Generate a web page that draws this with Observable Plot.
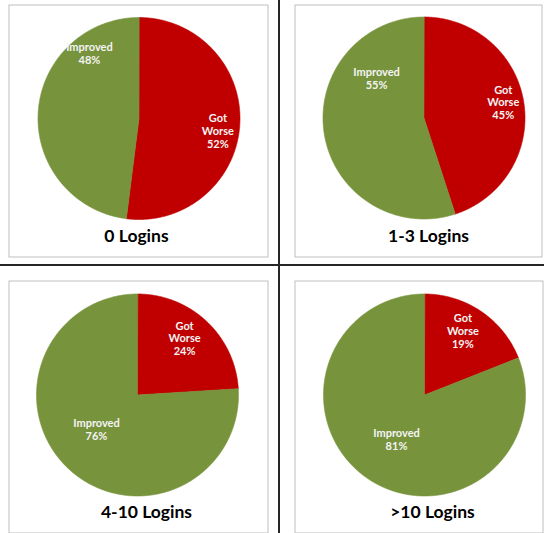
<!DOCTYPE html>
<html>
<head>
<meta charset="utf-8">
<script src="https://cdn.jsdelivr.net/npm/d3@7"></script>
<script src="https://cdn.jsdelivr.net/npm/@observablehq/plot@0.6"></script>
<style>
  html, body { margin: 0; padding: 0; background: #fff; }
  #sheet { position: relative; width: 544px; height: 533px; overflow: hidden; background: #fff; }
  #sheet > svg { position: absolute; }
  .rule { position: absolute; background: #262626; }
</style>
</head>
<body>
<div id="sheet"></div>
<script>
// Share of users whose outcome improved / got worse, by login frequency
const groups = ["0 Logins", "1-3 Logins", "4-10 Logins", ">10 Logins"];
const categories = ["Got Worse", "Improved"];
const gotWorse = [52, 45, 24, 19];
const improved = [48, 55, 76, 81];
const colors = ["#C00000", "#77933C"];

// Panel boxes on the sheet (pixels), pie centre/radius and title anchor inside each box
const panelLayout = [
  {left: 8,   top: 4,   w: 260, h: 253, cx: 130.5, cy: 114,   r: 101, tx: 128, ty: 232},
  {left: 294, top: 4,   w: 248, h: 253, cx: 129.5, cy: 113.5, r: 101, tx: 134, ty: 232},
  {left: 8,   top: 280, w: 260, h: 253, cx: 129,   cy: 114.5, r: 101, tx: 138, ty: 232},
  {left: 294, top: 280, w: 249, h: 253, cx: 130,   cy: 114.5, r: 101, tx: 138, ty: 232}
];
// Data-label placement: angle (degrees clockwise from 12 o'clock) and radius fraction
const labelPlacement = [
  {"Got Worse": [98.7, 0.79], "Improved": [322.7, 0.81]},
  {"Got Worse": [78.8, 0.80], "Improved": [309.7, 0.61]},
  {"Got Worse": [39.7, 0.73], "Improved": [230.0, 0.53]},
  {"Got Worse": [30.9, 0.74], "Improved": [212.2, 0.52]}
];

const sheet = document.getElementById("sheet");
const font = "Lato, 'Open Sans', sans-serif";

groups.forEach((group, i) => {
  const L = panelLayout[i];
  const values = [gotWorse[i], improved[i]];
  const rows = categories.map((c, k) => ({category: c, value: values[k]}));

  // Slice angles, starting at 12 o'clock and running clockwise
  const arcs = d3.pie().sort(null).value(d => d.value)(rows);

  // Each slice as a closed outline: centre, then along its arc
  const outline = arcs.flatMap(a => {
    const n = Math.max(2, Math.ceil((a.endAngle - a.startAngle) / (Math.PI / 360)));
    const pts = [{category: a.data.category, t: null}];
    for (let s = 0; s <= n; ++s) {
      pts.push({category: a.data.category, t: a.startAngle + (a.endAngle - a.startAngle) * s / n});
    }
    return pts;
  });

  const labels = rows.map(d => {
    const [deg, rad] = labelPlacement[i][d.category];
    const t = deg * Math.PI / 180;
    return {
      category: d.category,
      lx: rad * Math.sin(t),
      ly: rad * Math.cos(t),
      text: (d.category === "Got Worse" ? "Got\nWorse" : "Improved") + "\n" + d.value + "%"
    };
  });

  const chart = Plot.plot({
    width: L.w,
    height: L.h,
    margin: 0,
    style: {background: "#fff", fontFamily: font, overflow: "visible"},
    x: {domain: [-1, 1], range: [L.cx - L.r, L.cx + L.r], axis: null},
    y: {domain: [-1, 1], range: [L.cy + L.r, L.cy - L.r], axis: null},
    color: {domain: categories, range: colors},
    marks: [
      Plot.frame({stroke: "#bfbfbf", inset: 0.5}),
      Plot.line(outline, {
        x: d => d.t === null ? 0 : Math.sin(d.t),
        y: d => d.t === null ? 0 : Math.cos(d.t),
        z: "category",
        fill: "category",
        stroke: "category",
        strokeWidth: 0.6,
        curve: "linear-closed"
      }),
      Plot.text(labels, {
        x: "lx", y: "ly", text: "text",
        fill: "#f4f4f4", fontSize: 11, fontWeight: "bold", lineHeight: 1.17
      }),
      Plot.text([group], {
        frameAnchor: "top-left", dx: L.tx, dy: L.ty,
        text: d => d, textAnchor: "middle", lineAnchor: "middle",
        fill: "#000", fontSize: 17.5, fontWeight: "bold"
      })
    ]
  });
  chart.style.left = L.left + "px";
  chart.style.top = L.top + "px";
  sheet.appendChild(chart);
});

// Dividing rules between the four panels
const vRule = document.createElement("div");
vRule.className = "rule";
Object.assign(vRule.style, {left: "278px", top: "0px", width: "2px", height: "533px"});
const hRule = document.createElement("div");
hRule.className = "rule";
Object.assign(hRule.style, {left: "0px", top: "264px", width: "544px", height: "2px"});
sheet.appendChild(vRule);
sheet.appendChild(hRule);
</script>
</body>
</html>
